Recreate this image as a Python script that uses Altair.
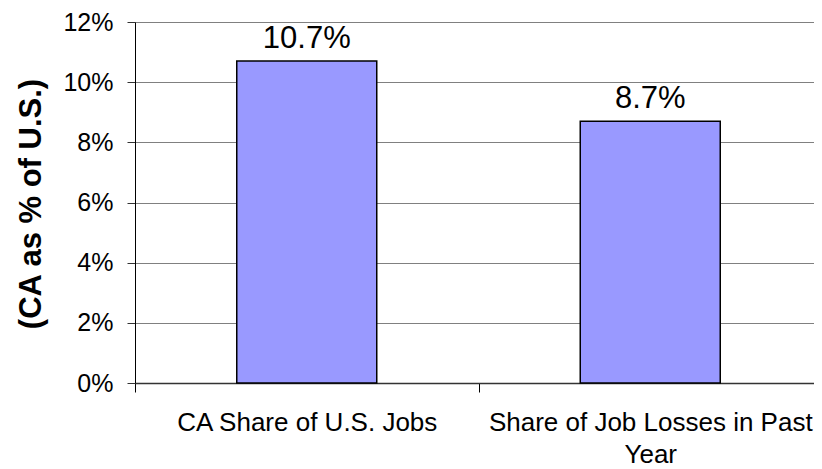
import altair as alt
import pandas as pd

categories = ["CA Share of U.S. Jobs", "Share of Job Losses in Past Year"]
values = [0.107, 0.087]
labels = ["10.7%", "8.7%"]

df = pd.DataFrame({"cat": categories, "val": values, "lab": labels})

W, H = 679, 361
FONT = "Liberation Sans"

x = alt.X("cat:N", sort=categories, title=None,
          scale=alt.Scale(paddingInner=0, paddingOuter=0, range=[0, 687]),
          axis=alt.Axis(labelAngle=0, labelFontSize=26, labelColor="black", labelFont=FONT,
                        labelPadding=17, labelLineHeight=32, tickBand="extent", labelLimit=0,
                        tickSize=9, tickColor="black", domainColor="#333333", domainWidth=1.5,
                        labelExpr="datum.value == 'Share of Job Losses in Past Year' ? ['Share of Job Losses in Past', 'Year'] : datum.label"))

y = alt.Y("val:Q", title="(CA as % of U.S.)",
          scale=alt.Scale(domain=[0, 0.12], nice=False),
          axis=alt.Axis(format=".0%", values=[0, 0.02, 0.04, 0.06, 0.08, 0.1, 0.12],
                        labelFontSize=25, labelColor="black", labelFont=FONT, labelPadding=14,
                        tickSize=8, tickColor="#333333", domainColor="black",
                        gridColor="#808080", gridWidth=1,
                        titleFontSize=31, titleFontWeight="bold", titleFont=FONT, titleColor="black",
                        titleX=-104, titleY=H / 2 + 1, titleAlign="center", titleAngle=-90,
                        titleBaseline="middle"))

bars = alt.Chart(df).mark_bar(size=140, color="#9999FF", stroke="black", strokeWidth=1.5).encode(x=x, y=y)
text = alt.Chart(df).mark_text(fontSize=31, font=FONT, color="black", dy=-13, baseline="alphabetic").encode(
    x=alt.X("cat:N", sort=categories), y="val:Q", text="lab:N")

chart = (bars + text).properties(
    width=W, height=H,
    autosize=alt.AutoSizeParams(type="none"),
    padding={"left": 127, "top": 14, "right": 0, "bottom": 86},
).configure_view(stroke=None).configure(background="white")

chart.save("out.html", embed_options={"renderer": "svg", "actions": False})
